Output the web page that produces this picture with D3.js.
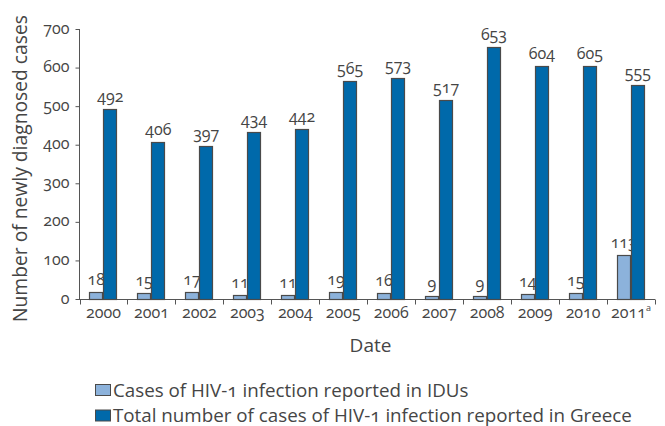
<!DOCTYPE html>
<html><head><meta charset="utf-8">
<script src="https://cdn.jsdelivr.net/npm/d3@7"></script>
<style>
body{margin:0;background:#fff;}
text{font-family:"Open Sans","Noto Sans",sans-serif;fill:#454545;font-variant-numeric:oldstyle-nums;font-feature-settings:"onum" 1;}
</style></head><body>
<svg id="c" width="665" height="426"></svg>
<script>
const years = ["2000","2001","2002","2003","2004","2005","2006","2007","2008","2009","2010","2011"];
const iduCases = [18,15,17,11,11,19,16,9,9,14,15,113];
const totalCases = [492,406,397,434,442,565,573,517,653,604,605,555];
const yTicks = [0,100,200,300,400,500,600,700];
const seriesNames = ["Cases of HIV-1 infection reported in IDUs","Total number of cases of HIV-1 infection reported in Greece"];
const colors = ["#8cb2db","#0069aa"];

const svg = d3.select("#c");
const x = d3.scaleBand().domain(years).range([79.5,655]).padding(0);
const y = d3.scaleLinear().domain([0,700]).range([299,29]);
const bw = x.bandwidth();
const sub = d3.scaleBand().domain([0,1]).range([bw*0.2, bw*0.79]).padding(0);

function fitWidth(sel, target){
  const w = sel.node().getComputedTextLength();
  const fs = parseFloat(sel.style("font-size"));
  sel.style("font-size", (fs*target/w).toFixed(2)+"px");
}

// axes
const yAxis = d3.axisLeft(y).tickValues(yTicks).tickSize(4).tickPadding(6);
const gy = svg.append("g").attr("transform","translate(79.5,0)").call(yAxis);
gy.select(".domain").attr("stroke","#555").attr("d","M0,"+y(700)+"V"+(y(0)+0.5));
gy.selectAll(".tick line").attr("stroke","#555");
gy.selectAll("text").attr("font-family",null).style("font-size","16px").attr("fill","#454545").attr("dy","0.25em");

const gx = svg.append("g").attr("transform","translate(0,299.5)");
gx.append("line").attr("x1",79).attr("x2",655).attr("stroke","#555");
gx.selectAll(".tk").data(years.concat(["end"])).join("line")
  .attr("x1",(d,i)=> Math.round(i<years.length? x(d): x.range()[1]) + 0.5)
  .attr("x2",(d,i)=> Math.round(i<years.length? x(d): x.range()[1]) + 0.5)
  .attr("y1",0).attr("y2",5).attr("stroke","#555");
const lbl = gx.selectAll(".lb").data(years).join("text")
  .attr("x",d=>x(d)+bw/2).attr("y",18).attr("text-anchor","middle")
  .style("font-size","16px");
lbl.text(d=>d);
lbl.filter(d=>d==="2011").append("tspan").attr("dy",-7).style("font-size","9px").text("a");

// bars
const g = svg.append("g");
years.forEach((yr,i)=>{
  [iduCases[i], totalCases[i]].forEach((v,k)=>{
    g.append("rect")
      .attr("x", Math.round(x(yr)+sub(k))+0.5).attr("y", Math.round(y(v))+0.5)
      .attr("width", Math.round(sub.bandwidth())-1).attr("height", 299-Math.round(y(v)))
      .attr("fill", colors[k]).attr("stroke","#4a4a4a").attr("stroke-width",1.2);
    g.append("text")
      .attr("x", x(yr)+sub(k)+sub.bandwidth()/2).attr("y", y(v)-7)
      .attr("text-anchor","middle").style("font-size","16px").text(v);
  });
});

// axis titles
const yt = svg.append("text").attr("transform","translate(27,168.5) rotate(-90)")
  .attr("text-anchor","middle").style("font-size","18px").text("Number of newly diagnosed cases");
fitWidth(yt, 307);
svg.append("text").attr("x",370.5).attr("y",352).attr("text-anchor","middle")
  .style("font-size","19px").text("Date");

// legend
const lg = svg.append("g");
seriesNames.forEach((s,i)=>{
  lg.append("rect").attr("x",95.5).attr("y",384.5+i*25.5).attr("width",15).attr("height",11)
    .attr("fill",colors[i]).attr("stroke","#4a4a4a");
  const t = lg.append("text").attr("x",113).attr("y",396.5+i*25.5).style("font-size","18px").text(s);
  if(i===1) fitWidth(t, 519);
});
const fsL = lg.selectAll("text").filter((d,i,n)=>i===1).style("font-size");
lg.selectAll("text").style("font-size", fsL);
</script></body></html>
